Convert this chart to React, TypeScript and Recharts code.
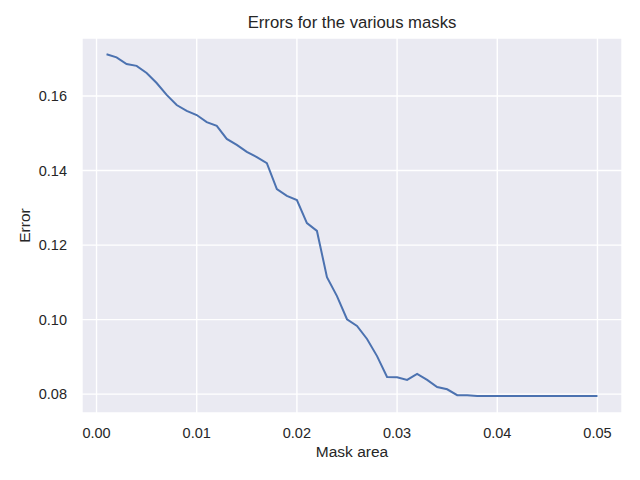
import React from "react";
import { LineChart, Line, XAxis, YAxis, CartesianGrid, Label } from "recharts";

const maskAreas = [
  0.001, 0.002, 0.003, 0.004, 0.005, 0.006, 0.007, 0.008, 0.009, 0.01,
  0.011, 0.012, 0.013, 0.014, 0.015, 0.016, 0.017, 0.018, 0.019, 0.02,
  0.021, 0.022, 0.023, 0.024, 0.025, 0.026, 0.027, 0.028, 0.029, 0.03,
  0.031, 0.032, 0.033, 0.034, 0.035, 0.036, 0.037, 0.038, 0.039, 0.04,
  0.041, 0.042, 0.043, 0.044, 0.045, 0.046, 0.047, 0.048, 0.049, 0.05,
];

const errors = [
  0.1712, 0.1704, 0.1686, 0.1681, 0.1662, 0.1635, 0.1603, 0.1576, 0.156, 0.1549,
  0.153, 0.152, 0.1485, 0.1469, 0.145, 0.1436, 0.142, 0.135, 0.1332, 0.1321,
  0.1259, 0.1238, 0.1114, 0.1063, 0.1001, 0.0983, 0.0948, 0.0902, 0.0846, 0.0845,
  0.0838, 0.0854, 0.0838, 0.0819, 0.0813, 0.0797, 0.0797, 0.0795, 0.0795, 0.0795,
  0.0795, 0.0795, 0.0795, 0.0795, 0.0795, 0.0795, 0.0795, 0.0795, 0.0795, 0.0795,
];

const xTicks = [0, 0.01, 0.02, 0.03, 0.04, 0.05];
const yTicks = [0.08, 0.1, 0.12, 0.14, 0.16];

const title = "Errors for the various masks";
const xLabel = "Mask area";
const yLabel = "Error";

const data = maskAreas.map((x, i) => ({ x, err: errors[i] }));

const FONT = '"Liberation Sans", Arial, sans-serif';
const TEXT = "#262626";

export default function App() {
  return (
    <div style={{ position: "absolute", left: 0, top: 0, width: 640, height: 480, background: "#fff", fontFamily: FONT }}>
      <div
        style={{
          position: "absolute",
          left: 82,
          width: 540,
          top: 13,
          textAlign: "center",
          fontSize: 16.7,
          lineHeight: "20px",
          color: TEXT,
          fontFamily: FONT,
        }}
      >
        {title}
      </div>
      <LineChart
        width={640}
        height={480}
        data={data}
        margin={{ top: 38, right: 18, bottom: 0, left: 0 }}
      >
        <CartesianGrid
          fill="#EAEAF2"
          stroke="#FFFFFF"
          strokeWidth={1.4}
          horizontal
          vertical
        />
        <XAxis
          dataKey="x"
          type="number"
          domain={[-0.00145, 0.05245]}
          allowDataOverflow
          ticks={xTicks}
          tickFormatter={(v: number) => v.toFixed(2)}
          axisLine={false}
          tickLine={false}
          tickSize={0}
          tickMargin={15}
          height={67}
          tick={{ fill: TEXT, fontSize: 14.5, fontFamily: FONT }}
        >
          <Label
            value={xLabel}
            position="insideBottom"
            offset={23}
            style={{ fill: TEXT, fontSize: 15.5, fontFamily: FONT }}
          />
        </XAxis>
        <YAxis
          type="number"
          domain={[0.07493, 0.17558]}
          allowDataOverflow
          ticks={yTicks}
          tickFormatter={(v: number) => v.toFixed(2)}
          axisLine={false}
          tickLine={false}
          tickSize={0}
          tickMargin={15}
          width={82}
          tick={{ fill: TEXT, fontSize: 14.5, fontFamily: FONT }}
        >
          <Label
            content={() => (
              <text
                x={30}
                y={225.5}
                transform="rotate(-90 30 225.5)"
                textAnchor="middle"
                fill={TEXT}
                fontSize={15.5}
                fontFamily={FONT}
              >
                {yLabel}
              </text>
            )}
          />
        </YAxis>
        <Line
          dataKey="err"
          type="linear"
          stroke="#4C72B0"
          strokeWidth={2}
          dot={false}
          isAnimationActive={false}
        />
      </LineChart>
    </div>
  );
}
